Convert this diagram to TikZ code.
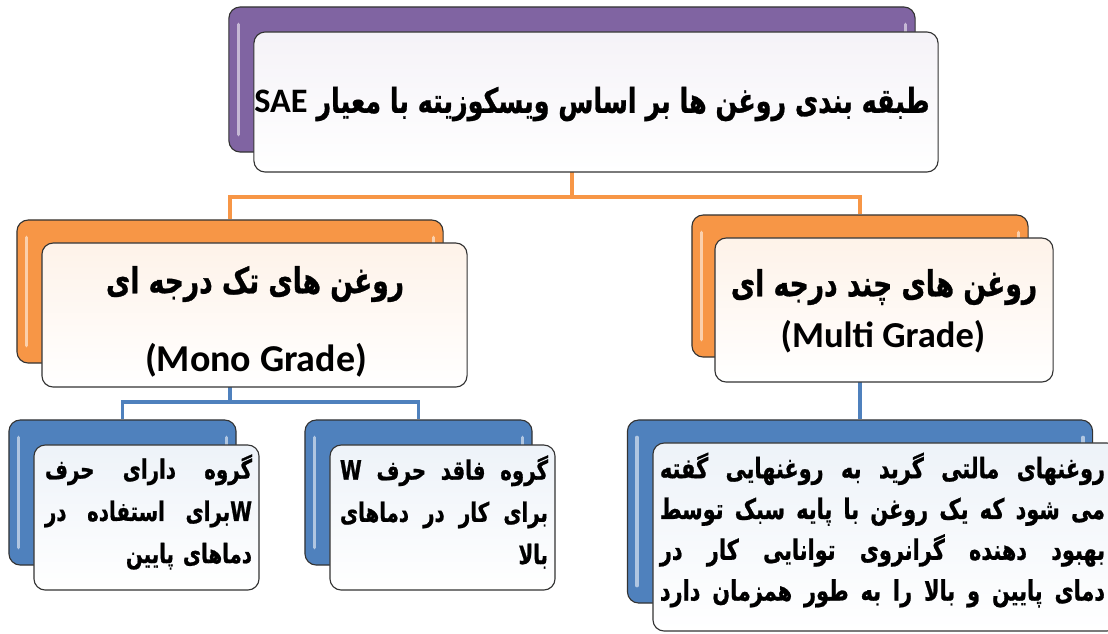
\documentclass[tikz,border=0pt]{standalone}
\usepackage{fontspec}
\newfontfamily\fafont[Script=Arabic,FakeStretch=0.74,BoldFeatures={FakeBold=0.8}]{DejaVu Sans}
\newfontfamily\enfont{Carlito}
\TeXXeTstate=1
\definecolor{oilpurple}{HTML}{8064A2}
\definecolor{oilorange}{HTML}{F79646}
\definecolor{oilblue}{HTML}{4F81BD}
\newcommand{\jrow}[1]{\noindent\hbox to \hsize{\beginR #1\endR}\par}

\begin{document}
\begin{tikzpicture}[x=0.025cm,y=-0.025cm,
    back/.style={draw=black!80,line width=0.8pt,rounded corners=8pt,fill=#1},
    face/.style={draw=black!80,line width=0.8pt,rounded corners=8pt,top color=#1,bottom color=white},
    shine/.style={draw=white!55!#1,line width=2.5pt,line cap=round},
    link/.style={draw=#1,line width=2.2pt}]
        \useasboundingbox (0,0) rectangle (1108,633);
        \node[back=oilpurple,minimum width=17.15cm,minimum height=3.625cm] (PB) at (572,79.5) {};
        \node[back=oilorange,minimum width=10.65cm,minimum height=3.575cm] (LB) at (230,291.5) {};
        \node[back=oilorange,minimum width=8.4cm,minimum height=3.55cm] (RB) at (860,286) {};
        \node[back=oilblue,minimum width=5.675cm,minimum height=3.625cm] (WB) at (122.5,492.5) {};
        \node[back=oilblue,minimum width=5.675cm,minimum height=3.625cm] (NB) at (418.5,492.5) {};
        \node[back=oilblue,minimum width=11.625cm,minimum height=4.575cm] (MB) at (860,511.5) {};
        \foreach \b/\c in {PB/oilpurple,LB/oilorange,RB/oilorange,WB/oilblue,NB/oilblue,MB/oilblue} {
            \draw[shine=\c] ([shift={(10,18)}]\b.north west) -- ([shift={(10,-18)}]\b.south west);
            \draw[shine=\c] ([shift={(-10,18)}]\b.north east) -- ([shift={(-10,30)}]\b.north east);
        }
        \coordinate (fork) at (572,197);
        \draw[link=oilorange] (PB.south) -- (fork) -| (LB.north);
        \draw[link=oilorange] (fork) -| (RB.north);
        \coordinate (split) at (230,402);
        \draw[link=oilblue] (LB.south) -- (split) -| (WB.north);
        \draw[link=oilblue] (split) -| (NB.north);
        \draw[link=oilblue] (RB.south) -- (MB.north);
        \node[face=oilpurple!8,minimum width=17.1cm,minimum height=3.5cm] (PF) at (596,102) {};
        \node[face=oilorange!12,minimum width=10.625cm,minimum height=3.6cm] (LF) at (254.5,315) {};
        \node[face=oilorange!12,minimum width=8.45cm,minimum height=3.6cm] (RF) at (884,310) {};
        \node[face=oilblue!10,minimum width=5.625cm,minimum height=3.625cm] (WF) at (146.5,517.5) {};
        \node[face=oilblue!10,minimum width=5.625cm,minimum height=3.625cm] (NF) at (442.5,517.5) {};
        \node[face=oilblue!10,minimum width=11.625cm,minimum height=4.7cm] (MF) at (885.5,537) {};
        \node[font=\fafont\bfseries\fontsize{24.4}{28}\selectfont] (title) at (592,104)
            {\beginR طبقه بندی روغن ها بر اساس ویسکوزیته با معیار \beginL{\enfont\bfseries SAE}\endL\endR};
        \node[font=\fafont\bfseries\fontsize{25.5}{30}\selectfont] (mono) at (255,284) {\beginR روغن های تک درجه ای\endR};
        \node[font=\enfont\bfseries\fontsize{27}{30}\selectfont] (monoen) at (256,360) {(Mono Grade)};
        \node[font=\fafont\bfseries\fontsize{25.5}{30}\selectfont] (multi) at (884,287) {\beginR روغن های چند درجه ای\endR};
        \node[font=\enfont\bfseries\fontsize{26}{30}\selectfont] (multien) at (883,337) {(Multi Grade)};
        \node[font=\fafont\bfseries\fontsize{19}{30}\selectfont,text width=5.175cm,inner sep=0pt] (wtext) at (148.5,512)
            {\jrow{گروه\hfill دارای\hfill حرف}\jrow{\beginL W\endL برای\hfill استفاده\hfill در}\jrow{دماهای پایین\hfill}};
        \node[font=\fafont\bfseries\fontsize{19}{30}\selectfont,text width=5.2cm,inner sep=0pt] (ntext) at (444,512)
            {\jrow{گروه\hfill فاقد\hfill حرف\hfill \beginL W\endL}\jrow{برای\hfill کار\hfill در\hfill دماهای}\jrow{بالا\hfill}};
        \node[font=\fafont\bfseries\fontsize{20}{29}\selectfont,text width=11.125cm,inner sep=0pt] (mtext) at (882.5,530)
            {\jrow{روغنهای\hfill مالتی\hfill گرید\hfill به\hfill روغنهایی\hfill گفته}\jrow{می\hfill شود\hfill که\hfill یک\hfill روغن\hfill با\hfill پایه\hfill سبک\hfill توسط}\jrow{بهبود\hfill دهنده\hfill گرانروی\hfill توانایی\hfill کار\hfill در}\jrow{دمای\hfill پایین\hfill و\hfill بالا\hfill را\hfill به\hfill طور\hfill همزمان\hfill دارد}};
\end{tikzpicture}
\end{document}
